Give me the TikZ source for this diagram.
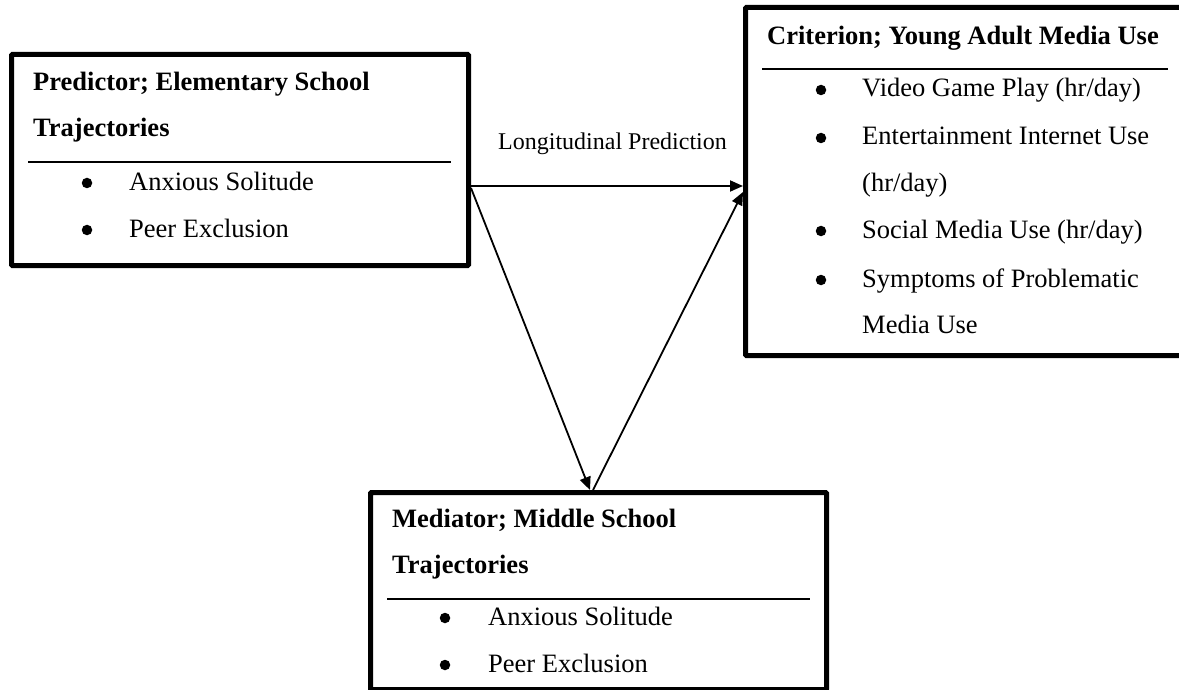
\documentclass[tikz,border=0pt]{standalone}
\usepackage{fontspec}
\setmainfont{Liberation Serif}
\usetikzlibrary{arrows.meta,calc}
\begin{document}
\begin{tikzpicture}[x=1pt,y=-1pt,
  box/.style={draw=black, line width=5pt, rounded corners=1pt, inner sep=0pt, anchor=north west},
  head/.style={font=\bfseries\fontsize{26.5}{30}\selectfont, anchor=base west, inner sep=0pt},
  item/.style={font=\fontsize{26.5}{30}\selectfont, anchor=base west, inner sep=0pt},
  bul/.style={circle, fill=black, minimum size=10.5pt, inner sep=0pt},
  rule/.style={line width=2.2pt},
  link/.style={line width=1.8pt, -{Triangle[length=13pt,width=11pt]}},
  lbl/.style={font=\fontsize{24}{28}\selectfont, anchor=base west, inner sep=0pt}]
\useasboundingbox (0,0) rectangle (1179,690);

% --- Predictor box ---
\node[box, minimum width=457pt, minimum height=211pt] (pred) at (9,52) {};
\node[head] (pred-t1) at (33,91) {Predictor; Elementary School};
\node[head] (pred-t2) at (33,137) {Trajectories};
\draw[rule] (28,162) coordinate (pred-r1) -- (451,162) coordinate (pred-r2);
\node[bul] (pred-b1) at (87,183) {};
\node[item] (pred-i1) at (129,190) {Anxious Solitude};
\node[bul] (pred-b2) at (87,230) {};
\node[item] (pred-i2) at (129,237) {Peer Exclusion};

% --- Criterion box (runs off the right edge) ---
\node[box, minimum width=460pt, minimum height=348pt] (crit) at (743,5) {};
\node[head] (crit-t1) at (767,45) {Criterion; Young Adult Media Use};
\draw[rule] (762,69) coordinate (crit-r1) -- (1168,69) coordinate (crit-r2);
\node[bul] (crit-b1) at (821,90) {};
\node[item] (crit-i1) at (862,97) {Video Game Play (hr/day)};
\node[bul] (crit-b2) at (821,138) {};
\node[item] (crit-i2) at (862,145) {Entertainment Internet Use};
\node[item] (crit-i2b) at (862,192) {(hr/day)};
\node[bul] (crit-b3) at (821,231) {};
\node[item] (crit-i3) at (862,238) {Social Media Use (hr/day)};
\node[bul] (crit-b4) at (821,280) {};
\node[item] (crit-i4) at (862,287) {Symptoms of Problematic};
\node[item] (crit-i4b) at (862,333) {Media Use};

% --- Mediator box (runs off the bottom edge) ---
\node[box, minimum width=456pt, minimum height=197pt] (med) at (368,490) {};
\node[head] (med-t1) at (392,527) {Mediator; Middle School};
\node[head] (med-t2) at (392,573) {Trajectories};
\draw[rule] (387,599) coordinate (med-r1) -- (810,599) coordinate (med-r2);
\node[bul] (med-b1) at (445,618) {};
\node[item] (med-i1) at (488,625) {Anxious Solitude};
\node[bul] (med-b2) at (445,665) {};
\node[item] (med-i2) at (488,672) {Peer Exclusion};

% --- paths between the boxes ---
\coordinate (pred-out1) at ($(pred.north east)+(0,134)$);
\coordinate (pred-out2) at ($(pred.north east)+(0,136)$);
\coordinate (med-in)    at ($(med.north west)+(222,0)$);
\coordinate (med-out)   at ($(med.north west)+(225,0)$);
\coordinate (crit-in)   at ($(crit.north west)+(0,187)$);

\draw[link] (pred-out1) -- (crit.west |- pred-out1);
\draw[link] (pred-out2) -- (med-in);
\draw[link] (med-out) -- (crit-in);

\node[lbl] (lp) at (498,150) {Longitudinal Prediction};
\end{tikzpicture}
\end{document}
